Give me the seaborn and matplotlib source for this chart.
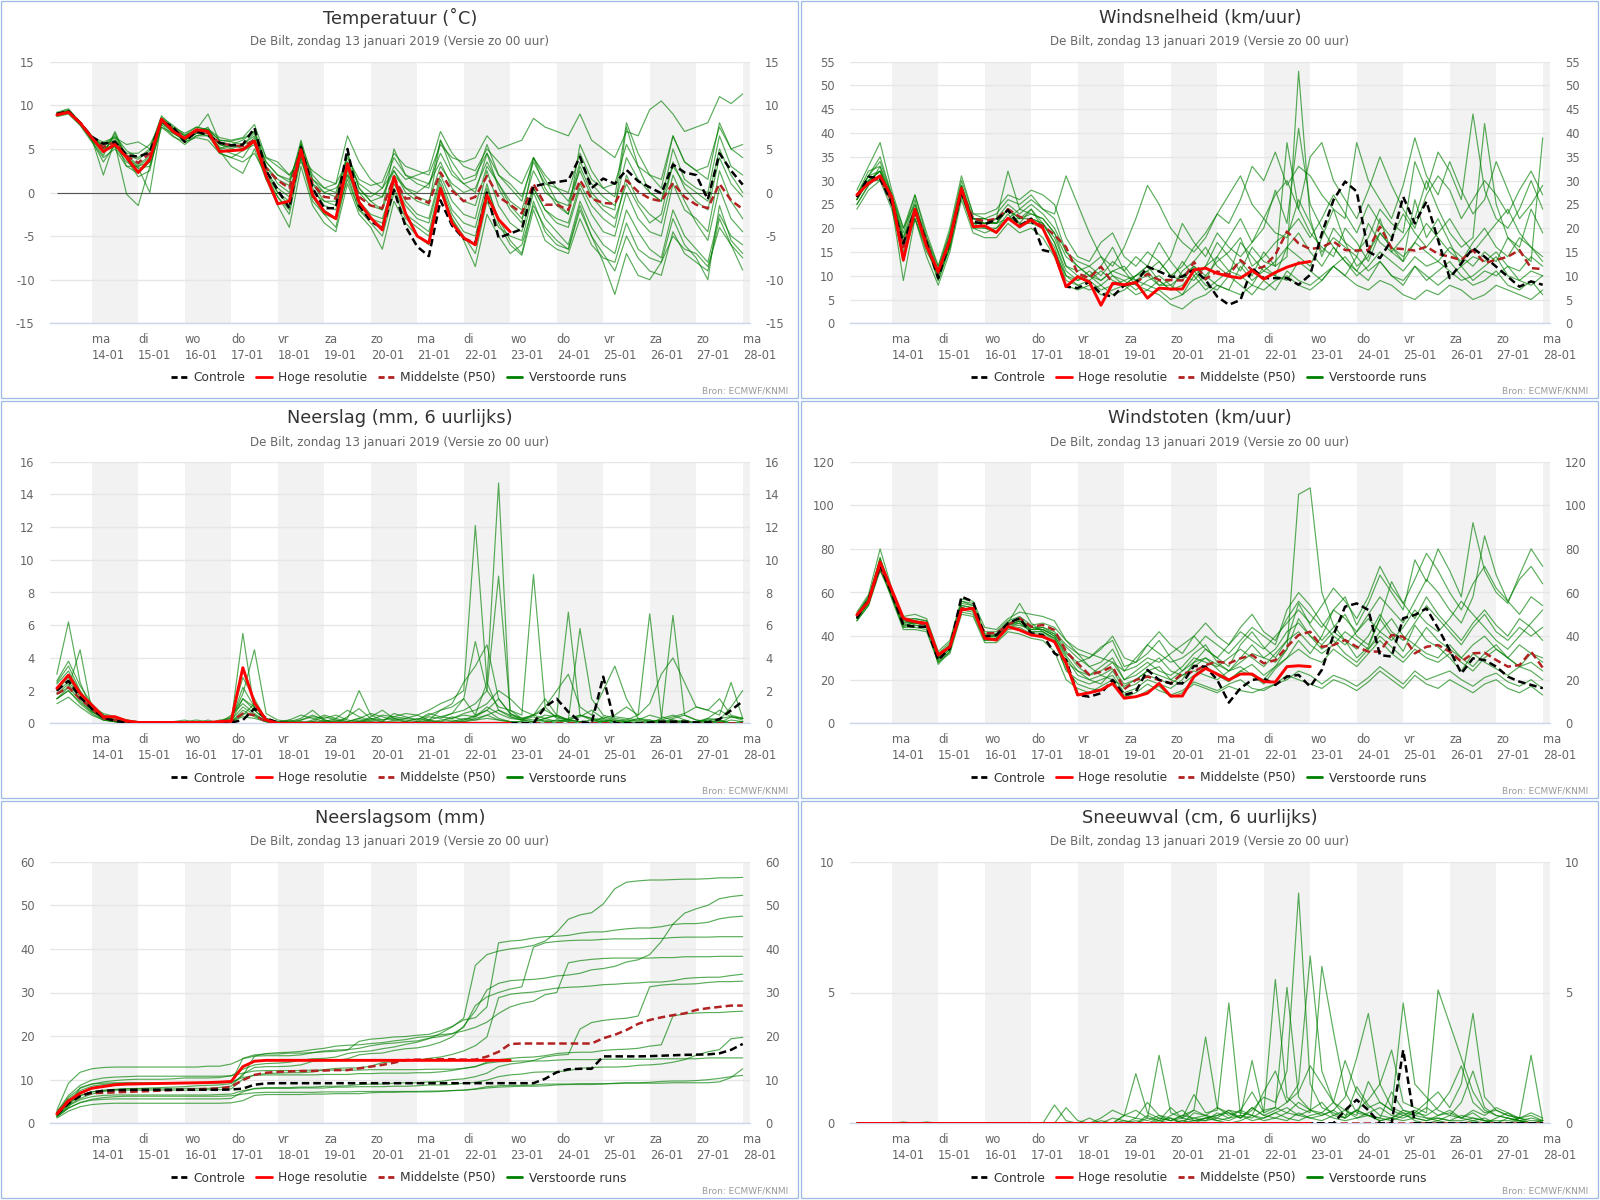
import numpy as np
import pandas as pd
import matplotlib
matplotlib.use('Agg')
import matplotlib.pyplot as plt
from matplotlib.lines import Line2D
from matplotlib.patches import Rectangle
import seaborn as sns

# tijdas: 6-uurlijks, 13-01 06u t/m 28-01 00u (60 stappen), hoge resolutie 40 stappen
times = pd.date_range('2019-01-13 06:00', '2019-01-28 00:00', freq='6h')
n_hres = 40
day_starts = pd.date_range('2019-01-14', '2019-01-28', freq='D')
day_names = ['ma', 'di', 'wo', 'do', 'vr', 'za', 'zo']

# ---------------- Temperatuur ----------------
temp_ticks = [-15, -10, -5, 0, 5, 10, 15]
temp_ctrl = [9.0, 9.3, 8.0, 6.4, 5.6, 5.8, 4.3, 4.1, 4.6, 8.2,
             7.5, 5.8, 7.0, 6.6, 5.7, 5.4, 5.5, 7.4, 2.5, 0.3,
             -1.8, 5.2, 0.5, -1.8, -1.8, 5.0, -1.5, -3.3, -4.1, 0.3,
             -3.9, -6.2, -7.3, -0.9, -3.8, -5.3, -5.8, 0.0, -5.2, -4.7,
             -4.2, 0.7, 1.0, 1.2, 1.4, 4.1, 0.5, 1.6, 1.0, 2.6,
             1.3, 0.6, -0.1, 3.2, 2.3, 2.0, -0.8, 4.5, 2.5, 0.9]
temp_hres = [8.9, 9.2, 8.0, 6.3, 4.7, 5.5, 4.0, 2.3, 3.8, 8.4,
             7.0, 6.2, 7.2, 7.0, 4.7, 4.8, 4.9, 5.9, 1.9, -1.3,
             -1.0, 4.9, -0.3, -2.2, -3.0, 3.3, -1.1, -2.9, -4.3, 1.8,
             -2.4, -5.0, -5.8, 0.5, -3.5, -5.2, -6.0, -0.3, -3.1, -4.5]
temp_p50 = [9.0, 9.3, 8.0, 6.3, 5.2, 5.8, 4.2, 3.4, 4.5, 8.2,
            7.3, 6.3, 7.0, 6.8, 5.7, 5.4, 5.3, 6.0, 2.8, 1.4,
            0.5, 4.9, 1.0, -0.5, -0.7, 3.0, -0.5, -1.5, -1.8, 1.7,
            -0.7, -0.6, -1.2, 2.3, 0.2, -1.0, -0.5, 1.9, -0.5, -1.4,
            -2.4, 1.0, -1.4, -1.4, -2.0, 1.4, -0.7, -1.2, -1.3, 1.4,
            0.1, -0.7, -1.0, 1.1, -0.5, -1.4, -1.8, 1.0, -0.9, -1.9]
temp_members = [
    [9.2, 9.6, 8.1, 6.0, 5.5, 6.5, 4.8, 4.0, 5.0, 8.8,
     7.5, 6.8, 7.5, 7.2, 6.0, 5.8, 5.5, 6.8, 3.5, 2.0,
     1.2, 5.5, 2.0, 0.5, 0.0, 4.0, 1.5, 0.8, 1.2, 4.5,
     3.0, 2.5, 2.0, 5.5, 4.0, 3.5, 4.0, 6.5, 5.0, 5.5,
     6.0, 8.5, 7.5, 7.0, 6.5, 9.0, 6.0, 5.0, 4.0, 7.0,
     6.5, 9.5, 10.5, 9.0, 7.0, 7.5, 8.0, 11.0, 10.2, 11.3],
    [8.8, 9.1, 7.8, 6.2, 2.0, 6.0, 3.0, 2.2, 3.5, 8.0,
     7.0, 5.8, 6.5, 6.8, 4.5, 4.0, 4.8, 5.5, 2.0, -0.5,
     -2.5, 4.0, -0.5, -2.0, -3.0, 2.5, -1.5, -3.0, -4.0, 0.5,
     -2.5, -3.5, -4.5, 1.0, -2.5, -4.5, -5.0, 0.5, -3.0, -5.5,
     -7.0, -1.0, -4.5, -6.0, -6.5, -1.5, -5.0, -8.0, -11.7, -7.0,
     -9.5, -10.0, -8.0, -5.0, -6.5, -7.0, -8.5, -4.0, -6.0, -8.9],
    [9.0, 9.4, 8.0, 6.5, 4.5, 6.8, 3.8, 1.8, 2.5, 8.5,
     7.4, 6.5, 7.2, 9.0, 5.8, 5.5, 5.0, 6.3, 3.0, 1.5,
     0.8, 6.0, 1.5, 0.0, -0.5, 4.5, 0.5, -1.0, -0.5, 2.5,
     0.5, 0.0, 1.0, 4.5, 2.0, 1.0, 1.5, 5.5, 2.0, 1.0,
     -0.5, 3.5, 1.0, 0.5, 0.0, 4.5, 1.5, 0.5, 1.0, 5.5,
     3.0, 2.0, 1.5, 6.5, 3.5, 2.5, 3.0, 7.5, 5.0, 5.5],
    [8.9, 9.2, 7.9, 6.0, 3.5, 5.5, -0.2, -1.5, 3.0, 7.5,
     6.8, 6.0, 6.8, 6.5, 5.2, 4.8, 5.0, 5.8, 2.5, 0.5,
     -0.5, 4.5, 0.0, -1.0, -1.5, 3.0, -1.0, -2.5, -3.0, 1.0,
     -1.5, -3.0, -3.5, 1.5, -2.0, -3.5, -4.0, 1.0, -3.5, -6.0,
     -7.2, -2.0, -5.5, -6.5, -7.0, -3.0, -6.0, -7.5, -8.0, -3.5,
     -6.5, -7.5, -8.0, -3.0, -6.0, -7.5, -10.0, -1.5, -5.5, -7.0],
    [9.1, 9.5, 8.0, 6.4, 5.5, 6.0, 4.5, 4.5, 5.5, 8.0,
     7.3, 6.0, 6.8, 7.5, 5.0, 5.5, 6.0, 7.0, 4.0, 3.0,
     2.0, 4.0, 2.5, 1.5, 1.0, 3.5, 1.0, 0.0, -0.5, 3.0,
     1.5, 2.0, 2.5, 7.0, 4.5, 3.0, 2.5, 5.0, 3.5, 2.0,
     1.0, 4.0, 2.0, 0.5, -1.0, 2.5, -0.5, -2.0, -3.0, 1.0,
     -1.5, -3.5, -2.5, 3.5, 0.5, -1.0, -2.0, 4.0, 1.0, -0.5],
    [8.7, 9.0, 7.7, 5.8, 4.0, 5.0, 3.0, 3.0, 4.0, 7.8,
     6.5, 5.5, 6.5, 6.5, 4.8, 3.0, 2.2, 5.0, 1.5, -0.5,
     -2.0, 5.8, -0.5, -2.5, -4.0, 2.0, -2.0, -3.5, -5.0, 0.0,
     -3.0, -4.0, -5.0, 0.5, -3.0, -5.0, -7.0, -1.0, -4.0, -5.0,
     -5.5, 0.0, -3.0, -4.5, -6.0, -1.0, -4.0, -6.0, -7.0, -2.0,
     -4.5, -6.5, -7.5, -2.0, -5.0, -6.5, -8.0, -2.5, -5.0, -6.0],
    [9.0, 9.2, 8.0, 6.2, 5.0, 5.5, 4.0, 3.0, 3.5, 8.3,
     7.0, 6.2, 7.0, 7.0, 5.5, 5.0, 5.5, 6.5, 3.5, 2.0,
     1.5, 5.0, 1.5, 0.5, 1.0, 6.5, 3.5, 1.5, 0.5, 2.5,
     0.0, -1.0, -1.5, 6.0, 3.5, 1.5, 2.0, 4.5, 2.0, 0.5,
     -1.0, 4.0, 1.5, -1.0, -2.5, 3.0, 0.0, -1.5, -2.0, 7.5,
     3.0, 0.0, -1.0, 5.0, 1.5, 0.5, 0.0, 6.5, 3.0, 2.0],
    [9.1, 9.3, 8.1, 6.4, 5.3, 6.3, 4.3, 3.8, 4.8, 8.5,
     7.3, 6.5, 7.2, 7.3, 6.3, 6.0, 6.3, 7.8, 4.0, 3.5,
     2.0, 3.5, 1.0, 0.0, 0.5, 2.0, 0.0, -0.5, 0.5, 4.0,
     2.0, 1.5, 1.0, 3.5, 0.5, -1.0, -1.5, 3.0, 1.0, -1.5,
     -3.0, 0.5, -2.0, -3.5, -4.0, 0.5, -2.5, -4.5, -5.0, 0.0,
     -3.0, -4.5, -5.0, 1.0, -2.0, -3.0, -4.5, 2.5, -1.0, -3.0],
    [8.9, 9.3, 7.9, 6.1, 4.2, 7.0, 4.0, 2.8, 0.0, 8.0,
     6.8, 6.0, 6.8, 7.0, 5.0, 4.5, 4.0, 6.0, 1.5, -1.5,
     -4.0, 3.0, -1.5, -3.5, -4.5, 1.0, -2.5, -4.0, -6.5, -1.0,
     -3.5, -5.0, -6.0, 0.0, -3.0, -5.5, -8.5, -2.5, -5.0, -7.0,
     -6.0, -1.5, -4.0, -5.5, -6.5, -2.0, -5.0, -7.0, -9.0, -5.0,
     -7.5, -9.0, -9.5, -4.5, -7.0, -8.0, -9.0, -3.0, -6.0, -7.5],
    [9.0, 9.4, 8.0, 6.3, 5.8, 6.3, 5.5, 5.8, 5.0, 8.6,
     7.7, 6.6, 7.5, 7.2, 6.0, 5.9, 6.2, 7.0, 3.0, 1.0,
     0.0, 5.0, 1.0, -1.0, -1.0, 3.5, 0.0, -1.5, -2.0, 2.0,
     0.5, -0.5, -1.0, 3.0, 1.0, 0.0, 0.5, 3.5, 1.0, -1.0,
     -2.0, 2.5, 0.0, -1.0, -1.5, 3.5, 1.0, -0.5, -1.5, 4.0,
     1.5, 0.0, -1.0, 3.0, 1.0, 0.0, -1.0, 5.0, 2.0, 0.0],
    [8.8, 9.2, 7.8, 6.0, 4.8, 5.2, 3.5, 2.8, 3.0, 7.5,
     6.4, 5.8, 6.3, 6.0, 4.5, 4.0, 3.5, 4.5, 2.0, 0.0,
     -1.5, 4.0, -1.0, -2.5, -3.0, 1.5, -2.0, -3.0, -3.5, 1.5,
     -1.0, -2.5, -3.0, 2.0, -1.0, -2.5, -3.0, 2.5, -1.5, -3.5,
     -4.5, 0.5, -2.0, -3.0, -3.5, 1.0, -1.5, -3.0, -4.0, 2.0,
     -1.0, -2.5, -3.5, 2.0, -1.0, -3.5, -5.5, 0.5, -3.0, -4.5],
    [9.0, 9.3, 8.0, 6.5, 5.0, 6.0, 4.2, 3.2, 4.2, 8.2,
     7.1, 6.3, 7.0, 7.0, 5.5, 5.2, 5.5, 6.0, 2.5, 0.0,
     -1.0, 5.5, 0.5, -1.5, -2.0, 4.5, 0.5, -1.0, -2.0, 5.0,
     2.0, 1.0, 0.5, 6.0, 2.5, 1.0, 0.0, 4.5, 0.5, -2.0,
     -3.5, 4.0, 0.5, -1.5, -2.5, 5.5, 2.5, 0.5, -0.5, 8.0,
     4.5, 2.0, 0.5, 6.5, 3.5, 2.5, 1.5, 8.0, 5.0, 4.0],
]

# ---------------- Windsnelheid ----------------
wind_ticks = [0, 5, 10, 15, 20, 25, 30, 35, 40, 45, 50, 55]
wind_ctrl = [26.5, 30.8, 30.5, 25.2, 16.8, 23.8, 17.0, 9.5, 17.5, 27.5,
             21.4, 20.8, 21.8, 23.8, 20.5, 22.0, 15.4, 14.8, 7.7, 7.4,
             8.7, 6.2, 5.6, 8.0, 8.5, 11.9, 10.9, 9.8, 9.8, 11.3,
             9.1, 5.6, 3.9, 4.9, 11.6, 9.5, 9.5, 9.5, 8.1, 10.2,
             18.9, 25.9, 29.8, 27.7, 15.1, 13.7, 17.5, 26.6, 21.0, 25.6,
             17.5, 9.5, 12.6, 15.8, 14.0, 11.9, 9.8, 7.7, 8.8, 8.1]
wind_hres = [27.0, 29.4, 31.0, 26.6, 13.3, 24.0, 16.1, 10.9, 17.5, 28.4,
             20.3, 20.5, 19.1, 22.1, 20.3, 21.7, 20.0, 14.7, 7.7, 9.8,
             8.7, 3.8, 8.4, 8.1, 8.6, 5.3, 7.4, 7.2, 7.2, 11.2,
             11.6, 10.5, 9.9, 9.5, 11.1, 9.3, 10.7, 11.8, 12.6, 13.0]
wind_p50 = [26.5, 30.0, 30.5, 25.5, 16.0, 24.0, 17.0, 10.5, 17.5, 28.0,
            22.0, 21.5, 22.0, 24.0, 22.4, 21.5, 20.5, 18.6, 16.0, 10.5,
            9.5, 11.9, 8.5, 8.0, 8.5, 10.4, 9.1, 9.1, 9.0, 12.9,
            9.3, 10.9, 10.2, 13.3, 11.2, 11.9, 14.4, 19.3, 16.8, 15.6,
            16.0, 17.2, 15.4, 15.3, 15.4, 20.3, 15.8, 15.6, 15.3, 16.1,
            14.6, 14.0, 13.3, 15.4, 12.7, 13.3, 14.0, 15.4, 11.6, 11.4]
wind_members = [
    [27, 31, 34, 27, 18, 26, 16, 10, 16, 28,
     22, 22, 21, 24, 21, 24, 20, 16, 9, 8,
     9, 7, 8, 9, 10, 11, 8, 8, 10, 12,
     9, 14, 11, 13, 10, 15, 12, 14, 53, 22,
     14, 20, 17, 12, 14, 22, 15, 13, 26, 18,
     22, 17, 12, 14, 13, 15, 12, 11, 14, 12],
    [25, 29, 33, 25, 9, 22, 15, 11, 19, 29,
     21, 20, 19, 22, 24, 26, 24, 22, 15, 12,
     10, 8, 6, 7, 9, 8, 7, 5, 6, 8,
     10, 8, 7, 12, 9, 11, 10, 16, 14, 12,
     18, 24, 17, 15, 18, 24, 21, 19, 34, 28,
     36, 32, 26, 44, 28, 22, 20, 24, 30, 24],
    [28, 33, 38, 28, 20, 27, 18, 12, 20, 31,
     23, 22, 23, 26, 25, 27, 24, 23, 31, 25,
     19, 14, 10, 8, 10, 12, 17, 13, 10, 9,
     12, 14, 18, 22, 17, 20, 28, 21, 41, 25,
     20, 16, 13, 10, 12, 15, 13, 11, 14, 12,
     13, 11, 9, 10, 12, 14, 10, 9, 11, 10],
    [26, 30, 32, 26, 15, 23, 17, 9, 16, 27,
     20, 19, 20, 23, 20, 22, 21, 17, 11, 9,
     10, 12, 16, 11, 8, 7, 6, 4, 3, 5,
     6, 8, 7, 6, 8, 7, 9, 10, 8, 7,
     9, 12, 10, 8, 7, 9, 8, 6, 5, 7,
     6, 8, 7, 5, 6, 8, 7, 6, 5, 7],
    [27, 31, 35, 27, 20, 25, 18, 11, 18, 29,
     22, 21, 22, 25, 23, 25, 23, 20, 15, 13,
     12, 14, 12, 16, 22, 29, 25, 20, 17, 15,
     18, 23, 21, 26, 33, 30, 36, 29, 33, 31,
     27, 24, 22, 38, 30, 26, 22, 29, 39, 31,
     27, 34, 28, 23, 26, 34, 28, 22, 25, 29],
    [24, 28, 30, 24, 14, 22, 14, 8, 15, 26,
     19, 18, 18, 21, 19, 20, 18, 14, 8, 7,
     8, 6, 7, 8, 6, 7, 9, 7, 8, 11,
     8, 7, 10, 8, 6, 9, 7, 11, 9, 8,
     10, 12, 14, 11, 9, 13, 10, 8, 12, 9,
     11, 13, 10, 8, 9, 11, 8, 7, 9, 6],
    [26, 30, 32, 26, 18, 24, 17, 10, 17, 28,
     21, 21, 22, 32, 24, 23, 22, 19, 12, 11,
     12, 10, 13, 11, 14, 12, 11, 14, 21, 17,
     14, 19, 16, 14, 17, 22, 19, 18, 26, 21,
     15, 18, 16, 14, 21, 17, 15, 18, 22, 30,
     24, 19, 16, 18, 42, 25, 18, 16, 24, 19],
    [26, 30, 30, 26, 17, 23, 17, 11, 17, 27,
     21, 21, 21, 22, 22, 22, 21, 17, 10, 9,
     11, 9, 11, 10, 9, 10, 8, 9, 13, 10,
     12, 17, 14, 11, 16, 13, 12, 38, 24, 19,
     16, 14, 20, 17, 13, 19, 16, 14, 17, 15,
     13, 16, 14, 12, 15, 13, 18, 15, 13, 39],
    [27, 32, 33, 27, 19, 27, 19, 12, 19, 30,
     23, 23, 24, 27, 26, 28, 27, 25, 18, 14,
     13, 17, 19, 14, 12, 15, 13, 10, 12, 16,
     19, 23, 27, 31, 25, 22, 27, 30, 24, 35,
     38, 30, 26, 22, 28, 35, 29, 24, 20, 27,
     31, 28, 22, 26, 30, 27, 23, 28, 32, 27],
    [25, 29, 31, 25, 16, 22, 16, 9, 16, 27,
     20, 20, 20, 22, 21, 21, 20, 15, 10, 8,
     7, 8, 10, 9, 7, 9, 10, 8, 6, 10,
     7, 9, 11, 10, 8, 12, 10, 9, 13, 11,
     9, 12, 10, 14, 11, 13, 10, 9, 12, 10,
     8, 10, 12, 9, 11, 10, 12, 9, 8, 10],
    [26, 31, 32, 26, 13, 24, 16, 10, 16, 28,
     22, 22, 21, 24, 22, 24, 21, 18, 12, 10,
     9, 11, 9, 8, 10, 12, 9, 7, 11, 13,
     16, 12, 10, 17, 14, 11, 13, 16, 19, 15,
     12, 16, 13, 11, 15, 19, 16, 13, 17, 21,
     18, 15, 13, 17, 20, 16, 14, 18, 16, 14],
    [27, 30, 32, 27, 17, 25, 17, 10, 18, 29,
     22, 21, 21, 24, 22, 23, 22, 19, 14, 12,
     10, 9, 11, 12, 9, 11, 13, 10, 9, 12,
     10, 13, 15, 18, 12, 14, 17, 19, 22, 18,
     22, 27, 23, 19, 25, 21, 18, 23, 19, 16,
     19, 22, 18, 15, 18, 21, 24, 19, 16, 13],
]

# ---------------- Windstoten ----------------
gust_ticks = [0, 20, 40, 60, 80, 100, 120]
gust_ctrl = [48.2, 56.6, 72.6, 59.6, 45.1, 44.3, 44.3, 29.0, 34.4, 58.1,
             55.8, 39.7, 40.5, 45.9, 48.2, 41.3, 40.5, 32.1, 29.0, 13.0,
             12.2, 13.8, 19.9, 13.0, 14.5, 24.5, 19.9, 18.3, 18.3, 26.3,
             26.0, 19.9, 9.5, 16.1, 19.9, 20.6, 17.6, 21.4, 22.2, 16.8,
             24.5, 40.5, 53.5, 55.0, 52.0, 31.3, 30.6, 48.2, 49.7, 52.7,
             43.6, 33.6, 22.9, 29.8, 29.0, 26.0, 21.4, 19.1, 17.6, 16.1]
gust_hres = [49.7, 55.8, 74.0, 61.2, 48.2, 46.6, 45.9, 31.3, 35.1, 52.0,
             52.7, 39.0, 38.2, 44.3, 42.8, 40.5, 39.7, 37.4, 27.5, 13.0,
             14.0, 15.3, 18.3, 11.5, 12.2, 13.8, 18.3, 12.5, 12.5, 21.4,
             25.2, 22.6, 19.9, 22.6, 22.6, 19.1, 18.9, 26.0, 26.4, 26.0]
gust_p50 = [49.7, 55.8, 71.9, 60.4, 47.4, 46.6, 45.1, 31.3, 35.1, 52.7,
            52.7, 41.3, 41.3, 45.1, 48.2, 44.3, 45.1, 42.8, 32.9, 27.5,
            22.2, 23.7, 26.0, 15.6, 19.9, 21.4, 19.9, 18.3, 22.9, 23.7,
            26.7, 28.3, 27.5, 29.8, 31.3, 27.5, 29.0, 35.1, 40.5, 42.0,
            35.1, 35.9, 38.2, 35.1, 32.9, 32.9, 40.5, 39.7, 32.1, 35.1,
            35.9, 32.9, 28.3, 32.1, 32.4, 29.0, 26.0, 26.7, 32.9, 25.5]
gust_members = [
    [48, 55, 76, 58, 44, 47, 46, 27, 33, 56,
     54, 38, 39, 46, 55, 46, 42, 38, 24, 20,
     18, 20, 22, 14, 16, 20, 18, 16, 20, 28,
     30, 25, 20, 24, 27, 22, 26, 34, 105, 108,
     60, 45, 38, 30, 35, 48, 40, 33, 45, 38,
     35, 30, 24, 32, 28, 25, 22, 26, 24, 20],
    [50, 58, 70, 61, 48, 45, 44, 31, 36, 52,
     51, 41, 40, 44, 45, 43, 44, 41, 35, 30,
     26, 22, 20, 17, 20, 24, 26, 20, 18, 22,
     26, 22, 19, 24, 22, 18, 25, 30, 38, 32,
     40, 52, 58, 45, 55, 68, 60, 52, 75, 65,
     80, 70, 58, 92, 70, 60, 55, 68, 80, 72],
    [47, 54, 72, 57, 43, 43, 42, 28, 32, 50,
     49, 37, 37, 42, 41, 39, 38, 33, 20, 16,
     14, 17, 20, 12, 14, 18, 15, 13, 15, 19,
     17, 15, 18, 20, 16, 15, 18, 22, 20, 18,
     16, 20, 18, 15, 19, 24, 20, 16, 22, 18,
     16, 20, 17, 14, 18, 20, 16, 14, 17, 13],
    [51, 59, 80, 62, 49, 50, 48, 33, 38, 57,
     56, 44, 43, 48, 51, 50, 49, 47, 38, 32,
     30, 34, 40, 30, 28, 36, 42, 36, 32, 40,
     46, 40, 36, 44, 50, 42, 38, 48, 56, 50,
     44, 52, 48, 42, 50, 58, 52, 46, 56, 66,
     60, 52, 46, 58, 86, 68, 56, 50, 58, 54],
    [49, 56, 74, 60, 46, 46, 45, 30, 35, 54,
     53, 40, 40, 45, 47, 43, 43, 40, 32, 28,
     30, 35, 38, 26, 28, 32, 38, 30, 24, 28,
     34, 30, 26, 36, 42, 35, 30, 38, 55, 45,
     38, 44, 50, 40, 36, 48, 65, 55, 48, 58,
     50, 44, 38, 46, 52, 45, 40, 48, 44, 38],
    [48, 55, 71, 59, 45, 45, 44, 29, 34, 53,
     52, 39, 39, 44, 46, 42, 42, 39, 28, 24,
     22, 24, 28, 20, 22, 26, 30, 24, 22, 26,
     30, 27, 24, 28, 32, 30, 28, 34, 48, 40,
     34, 38, 32, 28, 34, 40, 35, 30, 36, 32,
     30, 36, 30, 26, 32, 36, 30, 26, 32, 28],
    [50, 57, 76, 61, 47, 48, 47, 31, 36, 55,
     54, 41, 41, 46, 48, 44, 44, 42, 36, 32,
     26, 28, 34, 24, 26, 30, 28, 32, 36, 40,
     34, 30, 36, 42, 38, 34, 40, 46, 52, 46,
     54, 62, 56, 48, 58, 72, 62, 55, 66, 78,
     70, 60, 52, 64, 72, 62, 56, 66, 72, 64],
    [47, 54, 70, 58, 44, 44, 43, 28, 33, 51,
     50, 38, 38, 43, 44, 41, 41, 37, 25, 18,
     16, 15, 18, 13, 12, 15, 17, 12, 14, 18,
     16, 14, 17, 15, 14, 16, 18, 20, 24, 22,
     18, 22, 20, 17, 21, 26, 22, 18, 24, 20,
     22, 24, 20, 17, 21, 23, 19, 17, 20, 16],
    [49, 57, 73, 60, 46, 47, 46, 30, 35, 54,
     53, 40, 40, 45, 47, 43, 43, 41, 33, 26,
     22, 26, 30, 20, 24, 28, 24, 22, 26, 32,
     36, 28, 24, 30, 36, 30, 34, 42, 46, 40,
     36, 42, 38, 34, 40, 50, 42, 38, 46, 54,
     48, 42, 36, 44, 50, 42, 38, 44, 40, 44],
    [48, 56, 72, 59, 45, 46, 45, 29, 34, 53,
     52, 39, 39, 45, 46, 42, 42, 39, 30, 22,
     20, 18, 24, 16, 18, 22, 20, 18, 22, 24,
     22, 20, 24, 26, 22, 20, 26, 30, 34, 30,
     28, 34, 30, 26, 32, 38, 32, 28, 34, 30,
     28, 32, 28, 24, 30, 34, 30, 26, 28, 24],
    [50, 58, 75, 61, 48, 48, 47, 32, 37, 56,
     55, 42, 42, 47, 49, 45, 46, 44, 38, 34,
     32, 30, 28, 24, 30, 36, 32, 28, 30, 34,
     40, 36, 32, 38, 44, 40, 36, 52, 60, 54,
     46, 40, 36, 42, 48, 42, 38, 44, 52, 46,
     42, 48, 56, 50, 44, 38, 34, 40, 46, 52],
    [49, 56, 74, 60, 47, 46, 45, 30, 35, 53,
     52, 40, 40, 45, 47, 44, 43, 40, 31, 24,
     20, 22, 25, 18, 20, 24, 22, 20, 24, 30,
     28, 26, 30, 34, 30, 26, 32, 38, 42, 36,
     32, 36, 42, 38, 34, 42, 48, 40, 36, 44,
     38, 34, 30, 36, 40, 34, 30, 36, 32, 30],
]

# ---------------- Neerslag (6 uurlijks) ----------------
rain_ticks = [0, 2, 4, 6, 8, 10, 12, 14, 16]
rain_ctrl = [2.0, 2.6, 1.6, 0.9, 0.35, 0.15, 0.05, 0.05, 0.0, 0.0,
             0.0, 0.0, 0.0, 0.0, 0.0, 0.05, 0.2, 0.9, 0.3, 0.05,
             0.0, 0.0, 0.0, 0.0, 0.0, 0.0, 0.0, 0.0, 0.0, 0.0,
             0.0, 0.0, 0.0, 0.0, 0.0, 0.0, 0.0, 0.0, 0.0, 0.0,
             0.0, 0.0, 1.0, 1.5, 0.7, 0.1, 0.0, 2.85, 0.0, 0.0,
             0.0, 0.05, 0.1, 0.1, 0.1, 0.05, 0.05, 0.25, 0.8, 1.35]
rain_hres = [2.14, 2.95, 1.83, 1.12, 0.4, 0.4, 0.15, 0.05, 0.05, 0.05,
             0.05, 0.05, 0.05, 0.05, 0.1, 0.15, 3.4, 1.25, 0.2, 0.0,
             0.0, 0.0, 0.0, 0.0, 0.0, 0.0, 0.0, 0.0, 0.0, 0.0,
             0.0, 0.0, 0.0, 0.0, 0.0, 0.0, 0.0, 0.0, 0.0, 0.0]
rain_p50 = [1.8, 2.2, 1.5, 0.9, 0.3, 0.2, 0.1, 0.05, 0.05, 0.0,
            0.0, 0.0, 0.05, 0.05, 0.05, 0.1, 0.6, 0.5, 0.1, 0.0,
            0.0, 0.0, 0.0, 0.0, 0.0, 0.0, 0.0, 0.0, 0.0, 0.0,
            0.0, 0.0, 0.0, 0.0, 0.0, 0.0, 0.0, 0.0, 0.0, 0.0,
            0.0, 0.0, 0.0, 0.0, 0.0, 0.0, 0.0, 0.0, 0.0, 0.0,
            0.0, 0.0, 0.0, 0.0, 0.0, 0.0, 0.0, 0.0, 0.0, 0.0]
rain_members = [
    [2.5, 3.5, 2.0, 1.0, 0.5, 0.3, 0.2, 0.1, 0.0, 0.0,
     0.1, 0.2, 0.0, 0.0, 0.1, 0.4, 1.5, 1.0, 0.3, 0.1,
     0.2, 0.5, 0.3, 0.1, 0.3, 0.8, 0.4, 0.2, 0.5, 0.4,
     0.6, 0.5, 0.8, 1.2, 1.5, 2.0, 12.1, 2.5, 0.8, 0.5,
     0.3, 0.5, 1.0, 2.0, 3.0, 1.0, 0.5, 2.0, 3.5, 1.5,
     0.3, 0.2, 0.0, 0.1, 0.1, 0.0, 0.1, 0.2, 0.0, 0.1],
    [2.0, 2.5, 1.8, 0.9, 0.4, 0.2, 0.1, 0.0, 0.0, 0.0,
     0.0, 0.1, 0.0, 0.0, 0.2, 0.3, 2.8, 1.5, 0.2, 0.0,
     0.1, 0.3, 0.8, 0.2, 0.0, 0.4, 0.9, 0.3, 0.1, 0.6,
     0.4, 0.2, 0.5, 0.8, 1.2, 2.5, 3.5, 4.8, 1.5, 0.6,
     0.2, 0.1, 0.3, 0.5, 0.2, 0.4, 0.8, 0.3, 0.5, 1.0,
     0.5, 1.2, 3.0, 4.0, 2.5, 1.0, 0.8, 1.5, 0.5, 0.3],
    [3.0, 6.2, 2.5, 0.8, 0.3, 0.1, 0.0, 0.0, 0.0, 0.0,
     0.0, 0.0, 0.0, 0.2, 0.0, 0.5, 1.2, 0.6, 0.1, 0.0,
     0.0, 0.2, 0.5, 0.2, 0.1, 0.3, 2.0, 0.5, 0.2, 0.3,
     0.1, 0.3, 0.2, 0.8, 1.0, 1.5, 0.5, 2.5, 14.7, 0.4,
     0.2, 0.5, 0.3, 0.1, 0.2, 0.5, 0.3, 0.0, 0.4, 0.3,
     0.2, 0.0, 0.3, 0.5, 0.2, 0.0, 0.3, 0.8, 0.4, 0.2],
    [1.5, 2.2, 4.5, 0.8, 0.2, 0.1, 0.0, 0.0, 0.0, 0.0,
     0.0, 0.0, 0.0, 0.0, 0.0, 0.1, 5.5, 0.8, 0.2, 0.0,
     0.2, 0.0, 0.1, 0.4, 0.2, 0.1, 0.3, 0.6, 0.4, 0.2,
     0.3, 0.2, 0.6, 0.4, 0.6, 1.5, 5.0, 2.0, 1.0, 0.8,
     0.5, 9.1, 1.0, 0.3, 0.2, 0.1, 0.0, 0.2, 0.1, 0.0,
     0.0, 0.1, 0.0, 0.2, 0.1, 0.0, 0.0, 0.1, 0.0, 0.0],
    [1.8, 2.4, 1.5, 1.0, 0.6, 0.4, 0.2, 0.1, 0.1, 0.1,
     0.1, 0.1, 0.2, 0.1, 0.1, 0.3, 1.8, 4.5, 0.6, 0.2,
     0.1, 0.2, 0.4, 0.3, 0.5, 0.2, 0.1, 0.3, 0.2, 0.4,
     0.3, 0.5, 0.2, 0.4, 0.3, 0.6, 0.8, 1.2, 2.0, 1.5,
     0.8, 0.5, 1.5, 0.5, 6.8, 0.5, 0.3, 0.2, 0.1, 0.0,
     0.0, 0.0, 0.1, 0.0, 0.2, 0.0, 0.0, 0.1, 0.0, 0.0],
    [2.0, 2.8, 1.6, 0.8, 0.3, 0.1, 0.0, 0.0, 0.0, 0.0,
     0.0, 0.0, 0.0, 0.1, 0.0, 0.2, 2.2, 1.0, 0.3, 0.1,
     0.1, 0.0, 0.2, 0.5, 0.3, 0.1, 0.0, 0.4, 0.8, 0.3,
     0.2, 0.1, 0.4, 0.3, 0.6, 0.8, 1.2, 2.0, 9.0, 0.8,
     0.3, 0.2, 0.5, 0.4, 0.2, 0.1, 0.2, 0.3, 0.1, 0.2,
     0.1, 0.2, 0.0, 0.3, 0.5, 0.2, 0.1, 0.0, 0.4, 0.3],
    [1.5, 2.0, 1.2, 0.6, 0.2, 0.1, 0.0, 0.0, 0.0, 0.0,
     0.0, 0.0, 0.0, 0.0, 0.0, 0.1, 1.5, 0.8, 0.2, 0.0,
     0.0, 0.1, 0.0, 0.2, 0.0, 0.1, 0.3, 0.1, 0.0, 0.2,
     0.1, 0.0, 0.2, 0.1, 0.4, 0.2, 0.5, 0.8, 1.5, 0.6,
     0.3, 0.5, 0.8, 0.4, 0.2, 5.8, 1.5, 0.5, 0.3, 0.2,
     0.5, 6.7, 0.4, 0.2, 0.0, 0.1, 0.3, 0.2, 0.0, 0.1],
    [2.4, 3.2, 1.9, 1.0, 0.4, 0.2, 0.1, 0.0, 0.0, 0.0,
     0.0, 0.0, 0.1, 0.0, 0.0, 0.2, 1.0, 0.5, 0.1, 0.0,
     0.0, 0.0, 0.0, 0.1, 0.0, 0.0, 0.2, 0.0, 0.1, 0.0,
     0.0, 0.1, 0.0, 0.2, 0.3, 0.5, 0.4, 1.0, 0.6, 0.3,
     0.2, 0.1, 0.3, 0.5, 0.2, 0.1, 0.0, 0.4, 0.2, 0.1,
     0.2, 0.5, 0.3, 6.6, 0.5, 0.2, 0.1, 0.0, 0.2, 0.1],
    [1.8, 2.2, 1.4, 0.7, 0.3, 0.1, 0.0, 0.0, 0.0, 0.0,
     0.0, 0.0, 0.0, 0.0, 0.1, 0.1, 0.8, 0.4, 0.1, 0.0,
     0.0, 0.1, 0.0, 0.0, 0.2, 0.0, 0.1, 0.0, 0.0, 0.1,
     0.0, 0.1, 0.2, 0.0, 0.1, 0.3, 0.2, 0.5, 0.8, 0.4,
     0.2, 0.4, 0.1, 0.0, 0.3, 0.5, 0.2, 0.1, 0.0, 0.1,
     0.3, 0.1, 0.2, 0.4, 0.6, 1.0, 0.8, 0.5, 2.5, 0.3],
    [2.6, 3.8, 2.3, 1.2, 0.5, 0.2, 0.1, 0.1, 0.0, 0.0,
     0.0, 0.0, 0.0, 0.0, 0.0, 0.1, 0.6, 0.5, 0.1, 0.0,
     0.0, 0.0, 0.1, 0.0, 0.0, 0.0, 0.0, 0.1, 0.0, 0.0,
     0.0, 0.0, 0.1, 0.0, 0.0, 0.2, 0.4, 0.8, 0.3, 0.1,
     0.1, 0.0, 0.0, 0.2, 0.1, 0.0, 0.0, 0.1, 0.0, 0.0,
     0.0, 0.0, 0.1, 0.0, 0.0, 0.0, 0.2, 0.0, 0.0, 0.0],
    [1.2, 1.6, 1.0, 0.5, 0.2, 0.1, 0.0, 0.0, 0.0, 0.0,
     0.0, 0.0, 0.0, 0.0, 0.0, 0.1, 0.5, 1.2, 0.2, 0.0,
     0.0, 0.0, 0.1, 0.0, 0.1, 0.0, 0.0, 0.2, 0.1, 0.0,
     0.1, 0.0, 0.0, 0.1, 0.2, 0.1, 0.3, 0.5, 0.2, 0.1,
     0.0, 0.1, 0.2, 0.0, 0.0, 0.1, 0.0, 0.0, 0.0, 0.1,
     0.0, 0.0, 0.0, 0.1, 0.0, 0.0, 0.0, 0.2, 1.0, 2.0],
    [1.5, 2.0, 1.3, 0.7, 0.4, 0.2, 0.1, 0.0, 0.0, 0.0,
     0.0, 0.0, 0.0, 0.0, 0.0, 0.1, 0.4, 0.3, 0.1, 0.0,
     0.0, 0.0, 0.0, 0.1, 0.0, 0.0, 0.1, 0.0, 0.0, 0.0,
     0.0, 0.0, 0.1, 0.0, 0.1, 0.1, 0.2, 0.3, 0.2, 0.1,
     0.1, 0.0, 0.1, 0.2, 0.1, 0.0, 0.0, 0.1, 0.2, 0.1,
     0.0, 0.1, 0.2, 0.1, 0.0, 0.1, 0.2, 0.3, 0.4, 0.3],
]

# ---------------- Neerslagsom ----------------
rainsum_ticks = [0, 10, 20, 30, 40, 50, 60]
rainsum_p50 = [2.3, 5.3, 6.5, 6.9, 7.0, 7.1, 7.2, 7.3, 7.4, 7.5,
               7.6, 7.7, 7.8, 7.9, 8.0, 8.4, 9.9, 11.1, 11.6, 11.8,
               11.9, 12.0, 12.0, 12.1, 12.2, 12.2, 12.6, 13.0, 13.4, 13.9,
               14.5, 14.6, 14.6, 14.7, 14.7, 14.6, 14.6, 15.3, 16.4, 18.2,
               18.3, 18.3, 18.3, 18.3, 18.3, 18.3, 18.3, 19.5, 20.3, 21.4,
               22.8, 23.7, 24.3, 24.8, 25.2, 26.0, 26.4, 26.7, 27.0, 27.0]

# ---------------- Sneeuwval ----------------
snow_ticks = [0, 5, 10]
snow_ctrl = [0.0, 0.0, 0.0, 0.0, 0.0, 0.0, 0.0, 0.0, 0.0, 0.0,
             0.0, 0.0, 0.0, 0.0, 0.0, 0.0, 0.0, 0.0, 0.0, 0.0,
             0.0, 0.0, 0.0, 0.0, 0.0, 0.0, 0.0, 0.0, 0.0, 0.0,
             0.0, 0.0, 0.0, 0.0, 0.0, 0.0, 0.0, 0.0, 0.0, 0.0,
             0.0, 0.0, 0.5, 0.9, 0.5, 0.0, 0.0, 2.8, 0.0, 0.0,
             0.0, 0.0, 0.0, 0.0, 0.0, 0.0, 0.0, 0.0, 0.0, 0.0]
snow_hres = [0.0, 0.0, 0.0, 0.0, 0.0, 0.0, 0.0, 0.0, 0.0, 0.0,
             0.0, 0.0, 0.0, 0.0, 0.0, 0.0, 0.0, 0.0, 0.0, 0.0,
             0.0, 0.0, 0.0, 0.0, 0.0, 0.0, 0.0, 0.0, 0.0, 0.0,
             0.0, 0.0, 0.0, 0.0, 0.0, 0.0, 0.0, 0.0, 0.0, 0.0]
snow_p50 = [0.0, 0.0, 0.0, 0.0, 0.0, 0.0, 0.0, 0.0, 0.0, 0.0,
            0.0, 0.0, 0.0, 0.0, 0.0, 0.0, 0.0, 0.0, 0.0, 0.0,
            0.0, 0.0, 0.0, 0.0, 0.0, 0.0, 0.0, 0.0, 0.0, 0.0,
            0.0, 0.0, 0.0, 0.0, 0.0, 0.0, 0.0, 0.0, 0.0, 0.0,
            0.0, 0.0, 0.0, 0.0, 0.0, 0.0, 0.0, 0.0, 0.0, 0.0,
            0.0, 0.0, 0.0, 0.0, 0.0, 0.0, 0.0, 0.0, 0.0, 0.0]
snow_members = [
    [0, 0, 0, 0, 0.05, 0, 0, 0, 0, 0,
     0, 0, 0, 0, 0, 0, 0, 0, 0, 0,
     0, 0.2, 0.5, 0.3, 1.9, 0.4, 0.2, 0.1, 0.3, 0.5,
     0.3, 0.6, 0.4, 0.2, 0.5, 1.0, 0.8, 2.0, 8.8, 1.5,
     0.6, 0.4, 0.2, 0.5, 0.3, 0.1, 0.2, 0.4, 0.1, 0.0,
     0.1, 0.0, 0.0, 0.1, 0.2, 0.0, 0.0, 0.1, 0.0, 0.0],
    [0, 0, 0, 0, 0, 0, 0, 0, 0, 0,
     0, 0, 0, 0, 0, 0, 0, 0, 0.6, 0.1,
     0.0, 0.1, 0.0, 0.3, 0.5, 0.2, 2.6, 0.4, 0.2, 0.1,
     0.2, 0.3, 0.5, 0.4, 0.3, 1.2, 2.0, 0.8, 1.5, 6.4,
     2.0, 0.8, 0.5, 0.3, 1.6, 0.8, 0.5, 0.3, 0.2, 0.1,
     0.3, 0.5, 0.2, 0.1, 0.0, 0.2, 0.4, 0.1, 0.0, 0.1],
    [0, 0, 0, 0, 0, 0, 0, 0, 0, 0,
     0, 0, 0, 0, 0, 0, 0, 0, 0, 0,
     0, 0, 0.2, 0.1, 0, 0.3, 0.1, 0.6, 0.2, 0.5,
     3.3, 0.6, 0.3, 0.5, 1.2, 0.4, 5.5, 1.0, 0.6, 0.4,
     6.0, 3.5, 1.2, 0.4, 0.3, 0.2, 0.1, 0.3, 0.5, 0.2,
     0.2, 0.1, 0.3, 0.2, 0.1, 0.0, 0.2, 0.1, 0.0, 0.0],
    [0, 0, 0, 0, 0, 0, 0.05, 0, 0, 0,
     0, 0, 0, 0, 0, 0, 0, 0, 0, 0,
     0, 0, 0, 0.3, 0.2, 0.8, 0.3, 0.1, 0.2, 1.1,
     0.4, 0.5, 4.6, 0.3, 2.4, 0.4, 0.6, 5.2, 1.0, 0.5,
     0.3, 0.5, 1.0, 2.5, 4.2, 1.5, 0.6, 0.4, 0.3, 0.2,
     0.1, 0.3, 0.2, 0.4, 0.1, 0, 0, 0.2, 0, 0],
    [0, 0, 0, 0, 0, 0, 0, 0, 0, 0,
     0, 0, 0, 0, 0, 0, 0, 0, 0, 0,
     0, 0, 0, 0, 0.2, 0.1, 0.3, 0.2, 0, 0.4,
     0.3, 0.2, 0.5, 0.2, 0.6, 0.3, 0.5, 0.8, 1.2, 2.2,
     1.5, 0.8, 2.4, 1.2, 0.6, 0.8, 0.5, 4.6, 1.5, 1.0,
     0.5, 0.3, 0.8, 2.0, 0.6, 0.3, 0.2, 0.1, 0.2, 0.1],
    [0, 0, 0, 0, 0, 0, 0, 0, 0, 0,
     0, 0, 0, 0, 0, 0, 0, 0, 0, 0,
     0, 0, 0, 0, 0, 0, 0.2, 0.1, 0.3, 0.2,
     0.1, 0.4, 0.2, 0.3, 0.2, 0.5, 0.6, 0.4, 0.8, 0.5,
     0.4, 0.8, 0.3, 0.5, 0.9, 1.5, 2.8, 0.8, 0.6, 0.4,
     5.1, 3.8, 2.5, 1.2, 0.5, 0.3, 0.2, 0.1, 0.0, 0.1],
    [0, 0, 0, 0, 0, 0, 0, 0, 0, 0,
     0, 0, 0, 0, 0, 0, 0, 0, 0, 0,
     0, 0, 0, 0.1, 0, 0.2, 0.1, 0, 0.1, 0.2,
     0.3, 0.1, 0.2, 0.5, 0.3, 0.2, 0.4, 0.6, 0.3, 0.2,
     0.1, 0.3, 0.5, 0.2, 0.4, 0.6, 0.3, 0.2, 0.4, 0.8,
     1.2, 0.6, 1.5, 4.2, 1.0, 0.5, 0.3, 0.2, 2.6, 0.1],
    [0, 0, 0, 0, 0, 0, 0, 0, 0, 0,
     0, 0, 0, 0, 0, 0, 0, 0, 0, 0,
     0, 0, 0, 0, 0, 0, 0, 0, 0.1, 0,
     0.2, 0.1, 0, 0.1, 0.3, 0.1, 0.2, 0.1, 0.4, 0.2,
     0.3, 0.5, 0.2, 1.4, 0.7, 0.3, 0.2, 0.5, 0.3, 0.6,
     0.3, 0.4, 0.2, 0.5, 0.3, 0.6, 0.4, 0.2, 0.3, 0.1],
    [0, 0, 0, 0, 0, 0, 0, 0, 0, 0,
     0, 0, 0, 0, 0, 0, 0, 0.7, 0.1, 0,
     0.2, 0, 0, 0, 0.1, 0, 0, 0.3, 0.5, 0.1,
     0.2, 0.3, 0.4, 0.2, 0.6, 0.3, 0.2, 0.4, 0.3, 0.5,
     0.8, 0.3, 0.2, 0.5, 0.3, 0.2, 1.2, 0.5, 0.4, 0.3,
     0.6, 1.2, 2.2, 0.8, 0.4, 0.5, 0.3, 0.2, 0.4, 0.2],
    [0, 0, 0, 0, 0, 0, 0, 0, 0, 0,
     0, 0, 0, 0, 0, 0, 0, 0, 0, 0,
     0, 0, 0, 0, 0, 0, 0.1, 0.2, 0, 0.1,
     0.1, 0.2, 0.1, 0.3, 0.1, 0.2, 0.4, 0.2, 0.1, 0.3,
     0.4, 0.2, 0.1, 0.2, 0.3, 0.1, 0.2, 0.1, 0.2, 0.1,
     0.2, 0.1, 0.1, 0.2, 0.1, 0.1, 0.1, 0.2, 0.1, 0.1],
]

# controle op lengtes
for arr in [temp_ctrl, temp_p50, wind_ctrl, wind_p50, gust_ctrl, gust_p50,
            rain_ctrl, rain_p50, rainsum_p50, snow_ctrl, snow_p50]:
    assert len(arr) == len(times), len(arr)
for arr in [temp_hres, wind_hres, gust_hres, rain_hres, snow_hres]:
    assert len(arr) == n_hres, len(arr)
for group in [temp_members, wind_members, gust_members, rain_members, snow_members]:
    for m in group:
        assert len(m) == len(times), len(m)

# ---------------- opmaak ----------------
sns.set_style('white')
plt.rcParams['font.family'] = ['DejaVu Sans']
plt.rcParams['axes.unicode_minus'] = False

GREEN = '#008000'
HRES_RED = '#ff0000'
P50_RED = '#b22222'
DASH = (0, (3, 1.6))
SUBTITLE = 'De Bilt, zondag 13 januari 2019 (Versie zo 00 uur)'
X_LEFT = pd.Timestamp('2019-01-13 02:28')
X_RIGHT = pd.Timestamp('2019-01-28 03:46')

fig = plt.figure(figsize=(16, 12), dpi=100)


def px(x, y):
    # pixel (links-boven) -> figuurfractie
    return x / 1600, 1 - y / 1200


def draw_panel(col, row, title, ctrl, hres, p50, members, yticks, zero_line=False):
    ox, oy = col * 800, row * 400
    left, bottom = px(ox + 50, oy + 323.3)
    ax = fig.add_axes([left, bottom, 700 / 1600, 261.6 / 1200])

    # grijze banden voor even dagen
    for d in day_starts[::2]:
        ax.axvspan(d, d + pd.Timedelta(days=1), color='#f2f2f2', lw=0, zorder=0)

    if zero_line:
        ax.hlines(0, times[0], times[57], color='#555555', lw=0.8, zorder=1)

    long = pd.DataFrame({
        'tijd': np.tile(times.values, len(members)),
        'waarde': np.concatenate([np.asarray(m, dtype=float) for m in members]),
        'run': np.repeat(np.arange(len(members)), len(times)),
    })
    sns.lineplot(data=long, x='tijd', y='waarde', units='run', estimator=None,
                 color=GREEN, lw=0.85, alpha=0.65, ax=ax, legend=False, zorder=2)

    sns.lineplot(x=times, y=np.asarray(p50, dtype=float), color=P50_RED, lw=1.8,
                 linestyle=DASH, ax=ax, zorder=4)
    sns.lineplot(x=times, y=np.asarray(ctrl, dtype=float), color='black', lw=1.8,
                 linestyle=DASH, ax=ax, zorder=5)
    sns.lineplot(x=times[:n_hres], y=np.asarray(hres, dtype=float), color=HRES_RED,
                 lw=2.1, ax=ax, zorder=6)

    ax.set_xlim(X_LEFT, X_RIGHT)
    ax.set_ylim(yticks[0], yticks[-1])
    ax.set_yticks(yticks)
    ax.set_yticklabels([str(v) for v in yticks])
    ax.set_xticks(day_starts.to_pydatetime())
    ax.set_xticklabels([f'{day_names[d.dayofweek]}\n{d:%d-%m}' for d in day_starts],
                       ha='left', linespacing=1.25)
    ax.set_xlabel('')
    ax.set_ylabel('')

    ax.grid(axis='y', color='#e6e6e6', lw=1)
    ax.grid(axis='x', visible=False)
    ax.set_axisbelow(True)
    for s in ['top', 'left', 'right']:
        ax.spines[s].set_visible(False)
    ax.spines['bottom'].set_color('#ccd6eb')
    ax.spines['bottom'].set_linewidth(1)

    ax.tick_params(axis='x', length=5.5, width=1, color='#ccd6eb', pad=1.5,
                   labelsize=8.3, labelcolor='#666666')
    ax.tick_params(axis='y', length=0, pad=11, labelsize=8.3, labelcolor='#666666',
                   labelleft=True, labelright=True)

    # titels
    fig.text(*px(ox + 400, oy + 18), title, ha='center', va='center',
             fontsize=12.8, color='#333333')
    fig.text(*px(ox + 400, oy + 42), SUBTITLE, ha='center', va='center',
             fontsize=8.6, color='#666666')

    handles = [
        Line2D([], [], color='black', lw=2, linestyle=(0, (2.2, 1.3))),
        Line2D([], [], color=HRES_RED, lw=2),
        Line2D([], [], color=P50_RED, lw=2, linestyle=(0, (2.2, 1.3))),
        Line2D([], [], color=GREEN, lw=2),
    ]
    labels = ['Controle', 'Hoge resolutie', 'Middelste (P50)', 'Verstoorde runs']
    fig.legend(handles, labels, loc='center', bbox_to_anchor=px(ox + 399, oy + 378),
               ncol=4, frameon=False, fontsize=8.8, handlelength=1.25,
               columnspacing=0.9, handletextpad=0.55, labelcolor='#333333')

    fig.text(*px(ox + 788, oy + 391), 'Bron: ECMWF/KNMI', ha='right', va='center',
             fontsize=6.5, color='#999999')

    # kader
    fig.add_artist(Rectangle(px(ox + 0.5, oy + 397.5), 797 / 1600, 397 / 1200,
                             transform=fig.transFigure, fill=False,
                             edgecolor='#9bbbe6', lw=0.9))
    return ax


draw_panel(0, 0, 'Temperatuur (˚C)', temp_ctrl, temp_hres, temp_p50, temp_members,
           temp_ticks, zero_line=True)
draw_panel(1, 0, 'Windsnelheid (km/uur)', wind_ctrl, wind_hres, wind_p50, wind_members,
           wind_ticks)
draw_panel(0, 1, 'Neerslag (mm, 6 uurlijks)', rain_ctrl, rain_hres, rain_p50, rain_members,
           rain_ticks)
draw_panel(1, 1, 'Windstoten (km/uur)', gust_ctrl, gust_hres, gust_p50, gust_members,
           gust_ticks)
draw_panel(0, 2, 'Neerslagsom (mm)', np.cumsum(rain_ctrl), np.cumsum(rain_hres),
           rainsum_p50, [np.cumsum(m) for m in rain_members], rainsum_ticks)
draw_panel(1, 2, 'Sneeuwval (cm, 6 uurlijks)', snow_ctrl, snow_hres, snow_p50, snow_members,
           snow_ticks)

fig.savefig('out.png', dpi=100)
